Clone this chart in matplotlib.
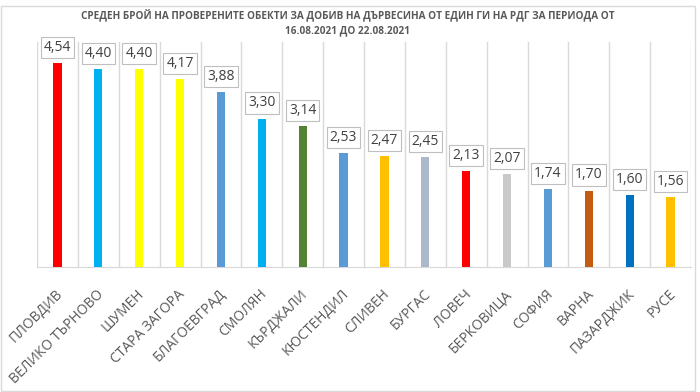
#!/usr/bin/env python3
"""Average number of inspected timber harvesting sites per regional forestry directorate."""

import matplotlib.pyplot as plt
import matplotlib.transforms as mtransforms
from matplotlib.patches import Rectangle

plt.rcParams['font.family'] = ['Open Sans', 'DejaVu Sans']

regions = ['ПЛОВДИВ', 'ВЕЛИКО ТЪРНОВО', 'ШУМЕН', 'СТАРА ЗАГОРА', 'БЛАГОЕВГРАД',
           'СМОЛЯН', 'КЪРДЖАЛИ', 'КЮСТЕНДИЛ', 'СЛИВЕН', 'БУРГАС', 'ЛОВЕЧ',
           'БЕРКОВИЦА', 'СОФИЯ', 'ВАРНА', 'ПАЗАРДЖИК', 'РУСЕ']
values = [4.54, 4.40, 4.40, 4.17, 3.88, 3.30, 3.14, 2.53, 2.47, 2.45, 2.13,
          2.07, 1.74, 1.70, 1.60, 1.56]
bar_colors = ['#FF0000', '#00B0F0', '#FFFF00', '#FFFF00', '#5B9BD5', '#00B0F0',
              '#548235', '#5B9BD5', '#FFC000', '#ADB9CA', '#FF0000', '#C9C9C9',
              '#5B9BD5', '#C55A11', '#0070C0', '#FFC000']

title = ('СРЕДЕН БРОЙ НА ПРОВЕРЕНИТЕ ОБЕКТИ ЗА ДОБИВ НА ДЪРВЕСИНА ОТ ЕДИН ГИ НА РДГ ЗА ПЕРИОДА ОТ\n'
         '16.08.2021 ДО 22.08.2021')

fig = plt.figure(figsize=(7, 3.92), dpi=100)
fig.patch.set_facecolor('white')

# chart border
fig.patches.append(Rectangle((1 / 700, 1 / 392), 694 / 700, 385 / 392,
                             transform=fig.transFigure, facecolor='none',
                             edgecolor='#D9D9D9', linewidth=1.0))

ax = fig.add_axes([37 / 700, 125 / 392, 654 / 700, 225 / 392])
x = range(len(regions))
bars = ax.bar(x, values, width=0.2, color=bar_colors, zorder=3)

ax.set_xlim(-0.5, len(regions) - 0.5)
ax.set_ylim(0, 5)

# vertical separators between categories
for b in [i - 0.5 for i in range(len(regions) + 1)]:
    ax.axvline(b, color='#D9D9D9', linewidth=1.0, zorder=1)

for s in ['top', 'right', 'left']:
    ax.spines[s].set_visible(False)
ax.spines['bottom'].set_color('#D9D9D9')
ax.set_yticks([])
ax.set_xticks(list(x))
ax.set_xticklabels(regions, rotation=45, ha='right', va='center',
                   rotation_mode='anchor', fontsize=10, color='#595959')
ax.tick_params(axis='x', length=0, pad=18)
shift = mtransforms.ScaledTranslation(3 / 100, 0, fig.dpi_scale_trans)
for lbl in ax.get_xticklabels():
    lbl.set_transform(lbl.get_transform() + shift)

for rect, v in zip(bars, values):
    ax.annotate(f'{v:.2f}'.replace('.', ','),
                (rect.get_x() + rect.get_width() / 2, v),
                xytext=(0, 8), textcoords='offset pixels',
                ha='center', va='bottom', fontsize=10, color='#404040',
                bbox=dict(boxstyle='square,pad=0.22', facecolor='white',
                          edgecolor='#BFBFBF', linewidth=0.8), zorder=4)

fig.text(0.497, 0.975, title, ha='center', va='top', fontsize=7.2,
         fontweight='bold', color='#595959', linespacing=1.35)

fig.savefig('out.png', dpi=100, facecolor='white')
